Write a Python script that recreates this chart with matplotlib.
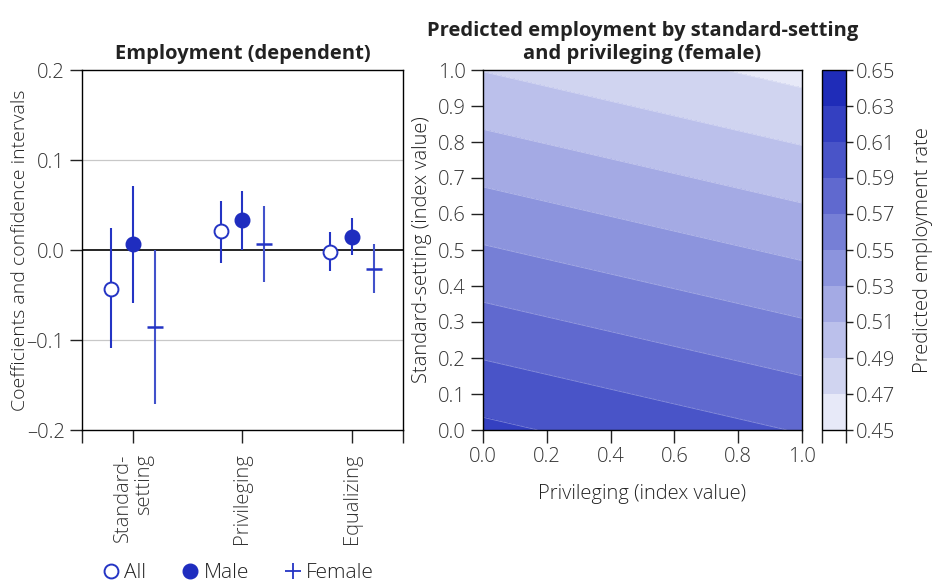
import numpy as np
import matplotlib
matplotlib.use("Agg")
import matplotlib.pyplot as plt
from matplotlib.colors import ListedColormap, BoundaryNorm
from matplotlib.lines import Line2D

plt.rcParams['font.family'] = ['Open Sans', 'DejaVu Sans']
plt.rcParams['font.size'] = 14
plt.rcParams['text.color'] = '#222222'
plt.rcParams['axes.labelcolor'] = '#222222'
plt.rcParams['xtick.color'] = '#222222'
plt.rcParams['ytick.color'] = '#222222'

# coefficient estimates with confidence intervals (employment, dependent)
categories = ['Standard-\nsetting', 'Privileging', 'Equalizing']
all_coef = [-0.043, 0.021, -0.002]
all_low = [-0.109, -0.014, -0.023]
all_high = [0.024, 0.054, 0.020]
male_coef = [0.007, 0.033, 0.015]
male_low = [-0.059, 0.000, -0.006]
male_high = [0.071, 0.066, 0.036]
female_coef = [-0.086, 0.007, -0.021]
female_low = [-0.171, -0.036, -0.048]
female_high = [0.000, 0.049, 0.007]

# predicted employment (female) at the corners of the index grid
priv_grid = [0.0, 1.0]
std_grid = [0.0, 1.0]
pred_rate = [[0.6144, 0.5888],   # standard-setting = 0
             [0.4894, 0.4638]]   # standard-setting = 1
levels = [0.45, 0.47, 0.49, 0.51, 0.53, 0.55, 0.57, 0.59, 0.61, 0.63, 0.65]

band_colors = ['#e7e9f8', '#d0d4f0', '#bbc0eb', '#a4aae4', '#8c94dd',
               '#767fd6', '#6069cf', '#4954c8', '#3440c1', '#1f2cb8']
blue = '#2434c4'
blue_light = '#4252cb'
tick_kw = dict(fontsize=14.5, fontweight='light', color='#333333')

fig = plt.figure(figsize=(9.32, 5.84), dpi=100)
W, H = 932, 584


def px_axes(x0, y0, x1, y1):
    return fig.add_axes([x0 / W, 1 - y1 / H, (x1 - x0) / W, (y1 - y0) / H])


# ---- left panel: coefficient plot ----
ax = px_axes(82, 70, 403, 430)
pos = np.arange(len(categories))
off = 0.2
ax.axhline(0, color='black', lw=1.2, zorder=1)
for yv in (0.1, -0.1):
    ax.axhline(yv, color='#c8c8c8', lw=0.9, zorder=0)

ax.vlines(pos - off, all_low, all_high, color=blue, lw=1.5, zorder=2)
ax.plot(pos - off, all_coef, 'o', ms=10, mfc='white', mec=blue, mew=1.4, zorder=3)
ax.vlines(pos, male_low, male_high, color=blue, lw=1.5, zorder=2)
ax.plot(pos, male_coef, 'o', ms=10.5, mfc='#1f2dbf', mec='#1f2dbf', zorder=3)
ax.vlines(pos + off, female_low, female_high, color=blue_light, lw=1.5, zorder=2)
ax.plot(pos + off, female_coef, '_', ms=12, mew=1.8, color='#2434c4', zorder=3)

xl = (-0.47, 2.47)
ax.set_xlim(*xl)
ax.set_ylim(-0.2, 0.2)
ax.set_yticks([-0.2, -0.1, 0.0, 0.1, 0.2])
ax.set_yticklabels(['\u20130.2', '\u20130.1', '0.0', '0.1', '0.2'], **tick_kw)
ax.set_xticks([xl[0], 0, 1, 2, xl[1]])
ax.set_xticklabels([''] + categories + [''], rotation=90, fontsize=14.5,
                   fontweight='light', color='#333333', multialignment='right',
                   linespacing=1.05)
ax.tick_params(axis='both', direction='out', length=9, width=1)
ax.tick_params(axis='x', pad=8)
ax.set_ylabel('Coefficients and confidence intervals', fontsize=14,
              fontweight='light', labelpad=-2)
ax.set_title('Employment (dependent)', fontsize=14.5, fontweight='bold', pad=8)
for s in ax.spines.values():
    s.set_linewidth(1)

handles = [
    Line2D([], [], marker='o', ls='none', ms=10, mfc='white', mec=blue, mew=1.4),
    Line2D([], [], marker='o', ls='none', ms=10.5, mfc='#1f2dbf', mec='#1f2dbf'),
    Line2D([], [], marker='+', ls='none', ms=12, mew=1.3, color=blue),
]
fig.legend(handles, ['All', 'Male', 'Female'], loc='center',
           bbox_to_anchor=(236 / W, 1 - 573 / H), ncol=3, frameon=False,
           prop=dict(family=['Open Sans', 'DejaVu Sans'], size=15, weight='light'),
           handletextpad=0.05, columnspacing=1.5, handlelength=1.2,
           borderpad=0.2)

# ---- right panel: predicted employment contour ----
ax2 = px_axes(483, 70, 802, 430)
cmap = ListedColormap(band_colors)
norm = BoundaryNorm(levels, cmap.N)
cf = ax2.contourf(priv_grid, std_grid, pred_rate, levels=levels, cmap=cmap, norm=norm)
ax2.contour(priv_grid, std_grid, pred_rate, levels=levels, colors='white',
            linewidths=0.6, alpha=0.35)
ax2.set_xlim(0, 1)
ax2.set_ylim(0, 1)
ax2.set_xticks(np.arange(0, 1.01, 0.2))
ax2.set_xticklabels([f'{v:.1f}' for v in np.arange(0, 1.01, 0.2)], **tick_kw)
ax2.set_yticks(np.arange(0, 1.01, 0.1))
ax2.set_yticklabels([f'{v:.1f}' for v in np.arange(0, 1.01, 0.1)], **tick_kw)
ax2.tick_params(axis='both', direction='out', length=9, width=1)
ax2.set_xlabel('Privileging (index value)', fontsize=14.5, fontweight='light',
               labelpad=12)
ax2.set_ylabel('Standard-setting (index value)', fontsize=14.5, fontweight='light',
               labelpad=4)
ax2.set_title('Predicted employment by standard-setting\nand privileging (female)',
              fontsize=14.5, fontweight='bold', pad=8, linespacing=1.2)
for s in ax2.spines.values():
    s.set_linewidth(1)

cax = px_axes(822, 70, 846, 430)
cb = fig.colorbar(cf, cax=cax, ticks=levels)
cb.ax.set_yticklabels([f'{v:.2f}' for v in levels], **tick_kw)
cb.ax.tick_params(axis='y', direction='out', length=5, width=1, pad=2)
cb.outline.set_linewidth(1)
cb.set_label('Predicted employment rate', fontsize=14.5, fontweight='light',
             labelpad=13)
cax.set_xticks([0, 1])
cax.set_xticklabels(['', ''])
cax.tick_params(axis='x', direction='out', length=9, width=1)

fig.savefig('out.png', dpi=100)
